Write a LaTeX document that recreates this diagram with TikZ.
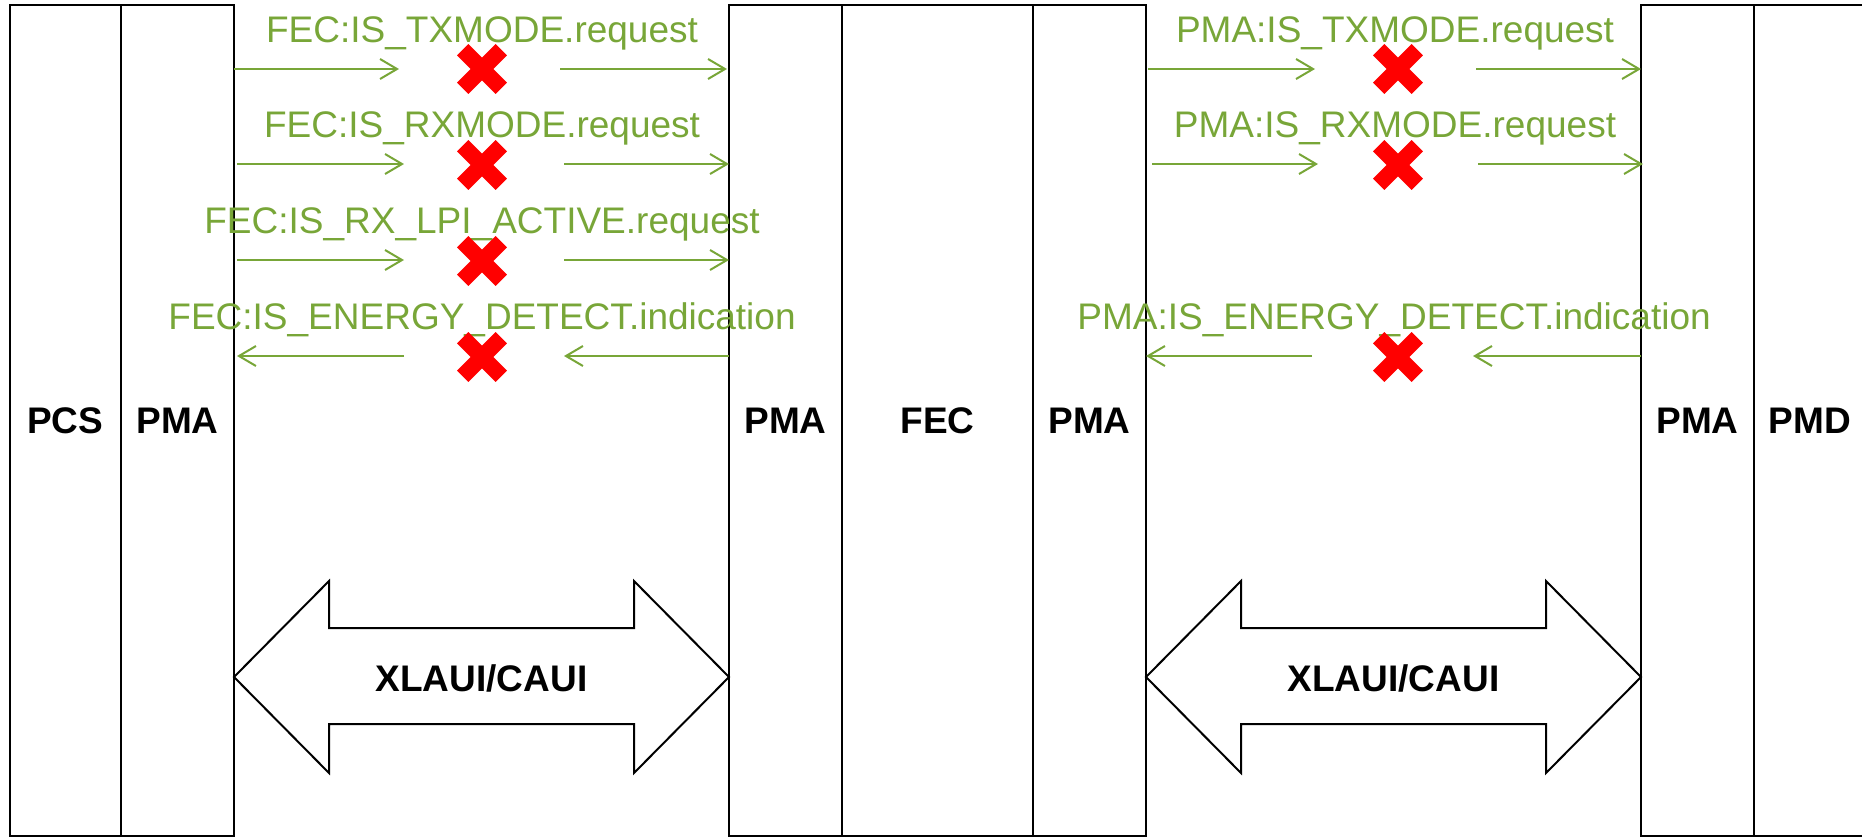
\documentclass[tikz,border=0pt]{standalone}
\usepackage{fontspec}
\setmainfont{Liberation Sans}
\usetikzlibrary{arrows.meta}
\definecolor{sigGreen}{RGB}{120,166,56}
\definecolor{xRed}{RGB}{255,0,0}
\begin{document}
\begin{tikzpicture}[x=0.5pt,y=-0.5pt,
  layer/.style={draw=black, line width=1pt, rectangle, inner sep=0pt, outer sep=0pt,
    minimum height=415.5pt, font=\fontsize{18.5}{22}\selectfont\bfseries},
  sig/.style={draw=sigGreen, line width=1pt, -{Straight Barb[length=8.5pt,width=10pt]}},
  siglbl/.style={text=sigGreen, inner sep=0pt, anchor=base, font=\fontsize{18.5}{22}\selectfont},
  ifarrow/.style={draw=black, line width=1pt, line join=miter},
  iflbl/.style={inner sep=0pt, anchor=base, font=\fontsize{18.5}{22}\selectfont\bfseries},
  redx/.pic={\draw[xRed, line width=8pt] (-19.3,-19.3) -- (19.3,19.3) (-19.3,19.3) -- (19.3,-19.3);}
]
\path[use as bounding box, clip] (0,0) rectangle (1862,836);

% layer boxes
\node[layer, minimum width=55.75pt] (pcs)  at (65.25,420.5) {PCS};
\node[layer, minimum width=56.5pt]  (pmaA) at (177.5,420.5) {PMA};
\node[layer, minimum width=56.5pt]  (pmaB) at (785.5,420.5) {PMA};
\node[layer, minimum width=95.5pt]  (fec)  at (937.5,420.5) {FEC};
\node[layer, minimum width=56.5pt]  (pmaC) at (1089.5,420.5) {PMA};
\node[layer, minimum width=56.5pt]  (pmaD) at (1697.5,420.5) {PMA};
\node[layer, minimum width=56pt]    (pmd)  at (1810,420.5) {PMD};

% signal labels (left)
\node[siglbl] (l1) at (482,42)  {FEC:IS\_TXMODE.request};
\node[siglbl] (l2) at (482,137) {FEC:IS\_RXMODE.request};
\node[siglbl] (l3) at (482,233) {FEC:IS\_RX\_LPI\_ACTIVE.request};
\node[siglbl] (l4) at (482,329) {FEC:IS\_ENERGY\_DETECT.indication};
% signal labels (right)
\node[siglbl] (r1) at (1395,42)  {PMA:IS\_TXMODE.request};
\node[siglbl] (r2) at (1395,137) {PMA:IS\_RXMODE.request};
\node[siglbl] (r4) at (1394,329) {PMA:IS\_ENERGY\_DETECT.indication};

% arrow end points (left)
\coordinate (a1s) at (234,69);  \coordinate (a1e) at (399,69);
\coordinate (b1s) at (560,69);  \coordinate (b1e) at (727,69);
\coordinate (a2s) at (237,164); \coordinate (a2e) at (404,164);
\coordinate (b2s) at (564,164); \coordinate (b2e) at (729,164);
\coordinate (a3s) at (237,260); \coordinate (a3e) at (404,260);
\coordinate (b3s) at (564,260); \coordinate (b3e) at (729,260);
\coordinate (a4s) at (404,356); \coordinate (a4e) at (237,356);
\coordinate (b4s) at (729,356); \coordinate (b4e) at (564,356);
% arrow end points (right)
\coordinate (c1s) at (1148,69);  \coordinate (c1e) at (1315,69);
\coordinate (d1s) at (1476,69);  \coordinate (d1e) at (1641,69);
\coordinate (c2s) at (1152,164); \coordinate (c2e) at (1318,164);
\coordinate (d2s) at (1478,164); \coordinate (d2e) at (1643,164);
\coordinate (c4s) at (1312,356); \coordinate (c4e) at (1146,356);
\coordinate (d4s) at (1641,356); \coordinate (d4e) at (1473,356);

\foreach \p in {a1,b1,a2,b2,a3,b3,a4,b4,c1,d1,c2,d2,c4,d4}
  \draw[sig] (\p s) -- (\p e);

% blocked markers
\foreach \yy in {69,165,261,357} \pic at (482,\yy) {redx};
\foreach \yy in {69,165,357} \pic at (1398,\yy) {redx};

% XLAUI/CAUI double arrows
\draw[ifarrow] (234,677) -- (329,581) -- (329,628) -- (634,628) -- (634,581) -- (729,677)
  -- (634,773) -- (634,724) -- (329,724) -- (329,773) -- cycle;
\node[iflbl] (ifL) at (481.5,691) {XLAUI/CAUI};
\draw[ifarrow] (1146,677) -- (1241,581) -- (1241,628) -- (1546,628) -- (1546,581) -- (1641,677)
  -- (1546,773) -- (1546,724) -- (1241,724) -- (1241,773) -- cycle;
\node[iflbl] (ifR) at (1393.5,691) {XLAUI/CAUI};
\end{tikzpicture}
\end{document}
